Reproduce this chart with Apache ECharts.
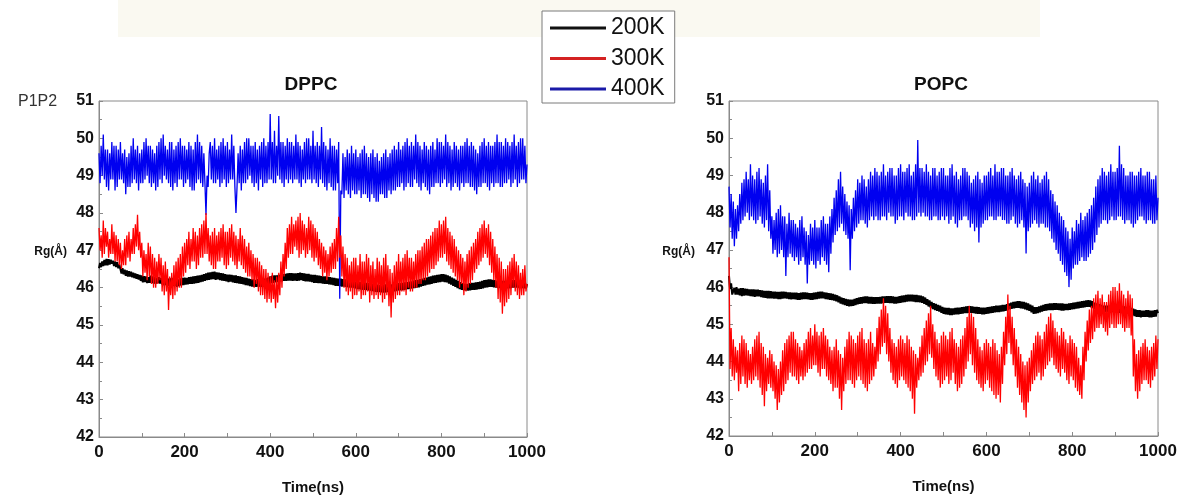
<!DOCTYPE html>
<html>
<head>
<meta charset="utf-8">
<title>P1P2 Rg</title>
<script src="https://cdn.jsdelivr.net/npm/echarts@6/dist/echarts.min.js"></script>
<style>
	html, body {margin: 0; padding: 0; background: #fff;}
	#main {width: 1184px; height: 497px;}
</style>
</head>
<body>
<div id="main"></div>
<script>
	// sampling step of the time series (ns)
	var timeStep = 2.5;
	var seriesNames = ['200K', '300K', '400K'];
	var xTicks = [0, 200, 400, 600, 800, 1000];
	var yTicks = [42, 43, 44, 45, 46, 47, 48, 49, 50, 51];

	// DPPC, Rg(Å) read every 2.5 ns, one row = 50 ns
	var dppc200 = [
		46.52,46.66,46.55,46.7,46.58,46.74,46.6,46.77,46.6,46.76,46.62,46.75,46.64,46.72,46.58,46.7,46.55,46.68,46.52,46.62,
		46.5,46.38,46.52,46.36,46.48,46.32,46.46,46.3,46.44,46.3,46.43,46.28,46.4,46.26,46.38,46.24,46.36,46.22,46.34,46.18,
		46.33,46.14,46.31,46.15,46.3,46.12,46.28,46.13,46.32,46.13,46.3,46.11,46.29,46.1,46.27,46.12,46.28,46.11,46.26,46.09,
		46.25,46.06,46.23,46.07,46.24,46.05,46.25,46.06,46.26,46.04,46.24,46.05,46.23,46.02,46.22,46.04,46.25,46.06,46.26,46.07,
		46.27,46.08,46.26,46.09,46.28,46.1,46.29,46.1,46.3,46.11,46.31,46.12,46.32,46.13,46.33,46.15,46.34,46.16,46.36,46.18,
		46.38,46.2,46.4,46.21,46.41,46.22,46.42,46.23,46.43,46.21,46.41,46.22,46.4,46.2,46.39,46.19,46.38,46.18,46.36,46.17,
		46.35,46.15,46.35,46.16,46.34,46.14,46.33,46.13,46.33,46.12,46.31,46.11,46.3,46.1,46.28,46.09,46.27,46.07,46.26,46.06,
		46.24,46.04,46.23,46.03,46.22,46.02,46.21,46.02,46.23,46.03,46.23,46.02,46.22,46.02,46.24,46.04,46.25,46.06,46.27,46.08,
		46.3,46.12,46.32,46.13,46.33,46.14,46.33,46.15,46.34,46.16,46.35,46.17,46.36,46.18,46.37,46.18,46.38,46.19,46.39,46.19,
		46.39,46.18,46.38,46.19,46.38,46.18,46.39,46.19,46.4,46.2,46.39,46.18,46.38,46.17,46.37,46.17,46.37,46.16,46.35,46.15,
		46.34,46.13,46.34,46.13,46.33,46.12,46.32,46.12,46.31,46.11,46.3,46.1,46.3,46.1,46.29,46.09,46.28,46.08,46.27,46.07,
		46.26,46.05,46.25,46.05,46.24,46.04,46.24,46.03,46.23,46.03,46.22,46.02,46.22,46.01,46.21,46.0,46.2,46.0,46.18,45.98,
		46.16,45.96,46.16,45.96,46.15,45.95,46.14,45.94,46.14,45.94,46.13,45.93,46.12,45.92,46.11,45.91,46.1,45.9,46.09,45.89,
		46.08,45.88,46.07,45.88,46.07,45.87,46.08,45.87,46.09,45.88,46.09,45.89,46.08,45.89,46.09,45.9,46.1,45.9,46.11,45.92,
		46.12,45.93,46.12,45.93,46.13,45.94,46.14,45.95,46.15,45.96,46.16,45.97,46.17,45.98,46.19,45.99,46.2,46.0,46.21,46.01,
		46.23,46.03,46.24,46.05,46.26,46.06,46.27,46.08,46.29,46.09,46.3,46.1,46.32,46.12,46.33,46.13,46.34,46.14,46.35,46.15,
		46.36,46.16,46.36,46.15,46.35,46.14,46.33,46.11,46.3,46.08,46.27,46.05,46.24,46.02,46.21,45.99,46.18,45.96,46.15,45.94,
		46.12,45.93,46.11,45.92,46.1,45.92,46.12,45.93,46.13,45.94,46.13,45.94,46.14,45.95,46.15,45.96,46.16,45.97,46.18,45.98,
		46.2,46.0,46.21,46.01,46.22,46.02,46.22,46.02,46.21,46.01,46.2,46.0,46.19,45.99,46.19,45.99,46.18,45.98,46.18,45.98,
		46.18,45.98,46.19,45.98,46.19,45.99,46.2,46.0,46.2,46.0,46.2,46.0,46.19,45.99,46.19,45.99,46.18,45.98,46.17,45.98,
		46.1
	];
	var dppc300 = [
		47.6,47.0,47.4,46.8,47.8,46.9,47.6,47.1,47.5,46.8,47.3,46.9,47.7,46.9,47.5,46.7,47.4,46.7,47.3,46.6,
		47.2,46.5,47.0,46.6,47.3,46.6,47.4,46.8,47.5,46.7,47.3,46.9,47.6,46.9,47.7,47.1,47.95,47.0,47.5,46.8,
		47.2,46.3,47.0,46.4,46.9,46.2,47.2,46.3,47.1,46.1,46.9,46.0,46.8,46.0,46.7,46.1,46.9,46.2,46.8,45.9,
		46.6,45.8,46.7,45.9,46.5,45.4,46.3,45.8,46.4,45.7,46.6,45.8,46.7,45.9,46.8,46.0,46.9,46.0,47.1,46.3,
		47.2,46.4,47.3,46.6,47.5,46.5,47.3,46.7,47.6,46.7,47.5,46.5,47.4,46.6,47.6,46.8,47.7,46.8,47.8,46.9,
		48.0,46.9,47.6,46.7,47.4,46.6,47.5,46.5,47.6,46.5,47.4,46.7,47.5,46.7,47.6,46.8,47.7,46.6,47.5,46.5,
		47.5,46.6,47.6,46.8,47.7,46.7,47.5,46.6,47.4,46.5,47.3,46.7,47.6,46.6,47.4,46.5,47.3,46.4,47.1,46.3,
		47.2,46.3,47.0,46.2,46.9,46.0,46.8,46.1,46.8,45.9,46.7,45.8,46.6,45.8,46.5,45.7,46.5,45.6,46.4,45.7,
		46.3,45.6,46.4,45.7,46.2,45.45,46.3,45.6,46.4,45.8,46.7,46.0,46.9,46.3,47.2,46.5,47.6,46.8,47.7,46.9,
		47.9,46.9,47.7,47.1,47.8,47.0,47.9,46.8,48.0,46.9,47.8,47.0,47.7,46.8,47.6,46.9,47.9,47.0,47.8,46.8,
		47.7,46.7,47.6,46.8,47.5,46.6,47.3,46.5,47.2,46.3,47.1,46.4,47.0,46.2,46.9,46.3,47.1,46.4,47.2,46.5,
		47.3,46.5,47.6,46.7,47.9,46.8,47.4,46.3,47.1,46.0,46.9,45.9,46.8,45.8,46.6,45.9,46.7,45.7,46.8,45.8,
		46.8,45.8,46.6,45.9,46.9,45.7,46.7,45.8,46.7,45.8,46.9,45.9,46.8,45.6,46.6,45.8,46.7,45.7,46.5,45.8,
		46.8,45.7,46.7,45.8,46.6,45.6,46.8,45.7,46.9,45.8,46.6,45.5,46.5,45.2,46.4,45.6,46.6,45.7,46.7,45.8,
		46.9,45.8,46.7,45.9,46.8,45.9,46.9,45.8,47.0,46.0,46.8,45.9,46.8,45.9,46.7,46.0,46.9,46.0,47.0,46.1,
		47.0,46.1,47.1,46.2,47.2,46.2,47.3,46.3,47.3,46.4,47.4,46.5,47.5,46.5,47.6,46.6,47.6,46.7,47.8,46.8,
		47.7,46.8,47.8,46.9,47.9,46.7,47.6,46.6,47.5,46.5,47.4,46.4,47.3,46.3,47.1,46.2,47.0,46.0,46.9,46.1,
		46.8,45.8,46.7,45.9,46.9,46.0,47.0,46.1,47.1,46.2,47.2,46.4,47.3,46.5,47.5,46.6,47.6,46.7,47.7,46.8,
		47.8,46.9,47.6,46.8,47.7,46.6,47.5,46.4,47.3,46.2,47.1,46.0,46.9,45.7,46.8,45.6,46.7,45.3,46.5,45.5,
		46.5,45.6,46.6,45.7,46.7,45.8,46.8,46.0,46.9,45.9,46.7,45.8,46.6,45.7,46.4,45.8,46.5,45.8,46.6,45.9,
		46.1
	];
	var dppc400 = [
		49.6,48.8,49.8,49.0,50.1,48.9,49.7,48.7,49.7,48.6,49.6,48.9,49.9,48.9,49.8,48.6,49.8,48.7,49.7,48.9,
		49.9,48.9,49.6,48.8,49.7,48.5,49.5,48.7,49.6,48.7,49.8,48.8,50.0,48.9,49.7,48.8,49.8,48.6,49.6,48.8,
		49.7,48.8,49.9,48.9,50.0,49.0,49.8,48.8,49.8,48.7,49.7,48.8,49.6,48.6,49.8,48.7,49.9,48.9,50.0,48.8,
		50.1,49.0,49.8,48.9,49.7,48.8,49.9,48.7,49.9,48.6,49.7,48.8,49.8,48.7,49.9,48.9,50.0,48.9,49.8,48.7,
		49.8,48.8,49.7,48.9,49.9,48.7,49.8,48.6,49.7,48.6,49.9,48.8,50.1,48.9,49.9,48.8,49.8,48.7,49.6,48.8,
		47.95,49.0,48.7,49.6,49.9,48.9,49.8,48.8,50.0,48.8,49.7,48.9,49.8,48.7,49.9,48.8,50.0,48.9,49.8,48.7,
		49.9,48.8,49.7,48.9,50.1,48.9,49.8,48.7,48.0,48.7,49.6,48.8,49.8,48.6,49.7,48.8,49.9,48.8,50.0,48.9,
		50.0,49.0,49.8,48.8,49.8,48.7,49.9,48.8,49.7,48.6,49.8,48.9,49.9,48.7,50.0,48.8,49.8,48.8,49.9,48.9,
		50.65,48.9,49.9,48.8,50.2,48.8,49.8,49.0,50.6,48.9,49.9,48.8,49.9,48.7,49.8,48.9,50.0,48.8,49.9,48.9,
		49.9,48.8,49.8,48.9,50.1,48.9,49.9,48.8,49.8,48.7,49.7,48.9,49.9,48.8,50.0,48.9,50.0,48.9,49.8,48.8,
		50.2,48.9,49.8,48.8,49.9,48.7,49.8,48.9,50.3,48.8,49.9,48.7,49.8,48.6,49.7,48.8,50.0,48.7,49.8,48.6,
		49.8,48.6,49.7,48.8,49.9,45.7,48.6,48.5,49.6,48.4,49.5,48.6,49.7,48.5,49.6,48.4,49.8,48.6,49.6,48.5,
		49.7,48.5,49.5,48.6,49.6,48.4,49.7,48.5,49.8,48.5,49.6,48.4,49.5,48.3,49.6,48.5,49.7,48.4,49.5,48.3,
		49.6,48.3,49.4,48.5,49.5,48.5,49.6,48.4,49.7,48.4,49.5,48.6,49.6,48.5,49.7,48.6,49.8,48.6,49.7,48.7,
		49.9,48.7,49.7,48.8,49.8,48.6,49.9,48.7,50.0,48.8,49.8,48.7,49.9,48.7,49.8,48.9,50.1,48.8,49.9,48.7,
		49.8,48.6,49.7,48.8,49.9,48.7,49.8,48.6,49.7,48.5,49.8,48.7,49.9,48.7,49.7,48.8,50.0,48.8,49.9,48.7,
		49.9,48.8,49.8,48.9,50.1,48.7,49.9,48.8,49.8,48.6,49.7,48.7,49.9,48.8,49.8,48.7,49.7,48.6,49.8,48.8,
		49.8,48.7,49.9,48.8,50.0,48.8,49.8,48.7,49.9,48.7,49.8,48.6,49.7,48.5,49.6,48.7,49.8,48.7,49.9,48.8,
		50.0,48.8,49.8,48.7,49.9,48.6,49.8,48.8,49.8,48.7,49.9,48.8,50.1,48.8,49.9,48.7,49.9,48.7,49.8,48.8,
		50.0,48.8,49.9,48.9,49.8,48.7,49.9,48.8,50.1,48.9,49.8,48.7,49.9,48.8,50.0,48.9,50.0,48.9,49.8,48.8,
		49.3
	];

	// POPC, Rg(Å) read every 2.5 ns, one row = 50 ns
	var popc200 = [
		46.3,45.95,46.1,45.8,45.78,45.98,45.8,46.0,45.8,45.96,45.78,45.97,45.76,45.97,45.77,45.96,45.78,45.95,45.77,45.94,
		45.76,45.94,45.75,45.94,45.74,45.93,45.75,45.93,45.75,45.92,45.73,45.91,45.72,45.9,45.71,45.9,45.7,45.9,45.7,45.89,
		45.7,45.88,45.69,45.88,45.69,45.87,45.68,45.87,45.68,45.88,45.69,45.88,45.7,45.87,45.69,45.86,45.68,45.86,45.67,45.85,
		45.68,45.85,45.67,45.85,45.66,45.84,45.66,45.85,45.67,45.86,45.68,45.86,45.68,45.85,45.67,45.84,45.66,45.84,45.66,45.85,
		45.67,45.86,45.68,45.87,45.69,45.88,45.7,45.88,45.7,45.86,45.68,45.85,45.67,45.84,45.66,45.83,45.65,45.82,45.64,45.8,
		45.62,45.78,45.59,45.75,45.56,45.72,45.54,45.7,45.52,45.68,45.5,45.67,45.48,45.66,45.49,45.66,45.5,45.68,45.52,45.7,
		45.54,45.72,45.55,45.73,45.56,45.74,45.57,45.75,45.57,45.75,45.56,45.74,45.56,45.74,45.55,45.73,45.55,45.73,45.56,45.73,
		45.56,45.74,45.56,45.75,45.57,45.75,45.58,45.76,45.58,45.76,45.57,45.76,45.57,45.75,45.56,45.74,45.56,45.74,45.57,45.76,
		45.58,45.77,45.59,45.78,45.6,45.79,45.61,45.8,45.62,45.8,45.62,45.8,45.61,45.79,45.6,45.79,45.6,45.78,45.59,45.77,
		45.58,45.75,45.55,45.72,45.52,45.68,45.48,45.64,45.45,45.6,45.41,45.57,45.38,45.55,45.36,45.52,45.34,45.5,45.31,45.47,
		45.28,45.45,45.27,45.44,45.26,45.44,45.25,45.43,45.25,45.43,45.26,45.44,45.27,45.45,45.27,45.45,45.28,45.46,45.29,45.47,
		45.3,45.48,45.3,45.49,45.31,45.49,45.31,45.48,45.3,45.47,45.29,45.47,45.28,45.46,45.28,45.45,45.27,45.45,45.27,45.45,
		45.28,45.46,45.29,45.47,45.3,45.48,45.31,45.49,45.32,45.5,45.33,45.5,45.33,45.51,45.34,45.52,45.35,45.52,45.36,45.54,
		45.38,45.56,45.4,45.58,45.42,45.6,45.43,45.61,45.44,45.62,45.44,45.62,45.43,45.61,45.42,45.6,45.4,45.58,45.38,45.56,
		45.36,45.53,45.32,45.5,45.28,45.46,45.29,45.46,45.3,45.48,45.32,45.5,45.34,45.52,45.36,45.54,45.37,45.55,45.38,45.56,
		45.38,45.56,45.38,45.57,45.39,45.57,45.39,45.56,45.38,45.56,45.37,45.56,45.37,45.55,45.38,45.55,45.38,45.56,45.39,45.57,
		45.4,45.58,45.41,45.59,45.42,45.6,45.43,45.61,45.44,45.62,45.45,45.63,45.46,45.64,45.47,45.65,45.47,45.64,45.45,45.62,
		45.42,45.58,45.39,45.56,45.36,45.54,45.34,45.52,45.33,45.5,45.32,45.5,45.32,45.5,45.33,45.5,45.33,45.51,45.33,45.51,
		45.32,45.5,45.32,45.5,45.31,45.49,45.3,45.48,45.3,45.48,45.29,45.47,45.28,45.46,45.26,45.44,45.25,45.42,45.22,45.4,
		45.2,45.38,45.2,45.38,45.19,45.37,45.2,45.37,45.2,45.38,45.2,45.38,45.19,45.37,45.19,45.37,45.2,45.38,45.21,45.39,
		45.3
	];
	var popc300 = [
		46.8,43.8,44.9,43.6,44.6,43.5,44.4,43.7,44.3,43.2,44.5,43.4,44.7,43.6,44.6,43.4,44.5,43.3,44.3,43.5,
		44.2,43.4,44.4,43.5,44.6,43.6,44.7,43.5,44.8,43.3,44.5,43.1,44.4,42.8,44.2,43.2,44.1,43.4,44.3,43.3,
		44.2,43.2,44.0,43.0,43.9,42.7,43.8,42.9,44.0,43.1,44.3,43.2,44.5,43.4,44.6,43.5,44.7,43.7,44.8,43.6,
		44.8,43.6,44.6,43.5,44.5,43.4,44.4,43.6,44.3,43.5,44.5,43.6,44.6,43.7,44.8,43.8,44.9,43.8,44.7,43.9,
		45.0,43.9,44.8,43.7,44.7,43.6,44.8,43.8,44.9,43.8,44.7,43.6,44.6,43.5,44.4,43.4,44.3,43.2,44.4,43.3,
		44.6,43.3,44.3,43.0,44.2,42.7,44.1,43.2,44.4,43.4,44.6,43.5,44.8,43.5,44.7,43.4,44.6,43.3,44.5,43.5,
		44.7,43.6,44.8,43.5,44.9,43.4,44.6,43.3,44.5,43.2,44.6,43.4,44.8,43.5,44.5,43.6,44.4,43.8,44.9,44.0,
		45.2,44.2,45.4,44.4,45.7,44.5,45.5,44.2,45.3,44.0,44.9,43.7,44.6,43.5,44.5,43.4,44.4,43.3,44.6,43.5,
		44.7,43.6,44.6,43.5,44.5,43.4,44.7,43.3,44.6,43.2,44.4,43.0,44.3,42.6,44.2,43.3,44.1,43.5,44.4,43.6,
		44.7,43.7,44.9,43.9,45.1,44.0,45.3,44.2,45.5,44.1,45.0,43.8,44.8,43.6,44.6,43.5,44.5,43.3,44.7,43.4,
		44.8,43.5,44.7,43.6,44.6,43.4,44.8,43.5,44.9,43.7,44.6,43.4,44.5,43.2,44.4,43.3,44.6,43.4,44.7,43.6,
		44.9,43.8,45.2,44.0,45.5,44.2,45.3,43.9,45.2,43.7,44.9,43.5,44.6,43.4,44.4,43.3,44.3,43.2,44.5,43.4,
		44.6,43.5,44.5,43.3,44.4,43.2,44.6,43.1,44.5,43.0,44.3,43.1,44.2,42.9,44.4,43.4,44.8,43.9,45.2,44.2,
		45.8,44.5,45.5,44.2,45.2,43.9,44.9,43.6,44.6,43.3,44.4,43.1,44.2,42.9,44.0,42.7,43.9,42.5,44.0,42.9,
		44.1,43.2,44.3,43.4,44.5,43.5,44.7,43.6,44.8,43.7,44.7,43.5,44.6,43.6,44.8,43.8,45.0,43.9,45.2,44.0,
		45.3,44.1,45.1,43.9,44.9,43.8,44.8,43.7,44.7,43.6,44.9,43.8,44.8,43.7,44.6,43.5,44.5,43.4,44.7,43.6,
		44.6,43.5,44.5,43.3,44.4,43.2,44.1,43.1,43.9,43.0,44.4,43.5,44.8,44.0,45.1,44.3,45.4,44.5,45.5,44.6,
		45.7,44.8,45.8,44.9,45.9,44.9,45.7,45.0,45.8,44.9,45.6,44.8,45.6,44.7,45.8,44.9,45.9,45.0,46.0,44.9,
		46.0,44.9,45.9,45.0,46.1,45.0,45.9,44.9,45.8,44.8,45.7,44.9,45.9,44.9,45.8,44.7,45.7,43.6,44.6,43.2,
		44.2,43.0,44.3,43.2,44.4,43.4,44.5,43.5,44.6,43.5,44.4,43.4,44.3,43.3,44.4,43.5,44.5,43.6,44.7,43.8,
		44.6
	];
	var popc400 = [
		48.7,47.6,48.5,47.3,48.3,47.1,48.1,47.3,48.2,47.5,48.5,47.7,48.8,47.8,48.9,47.9,49.1,48.0,48.9,47.8,
		49.3,47.9,49.0,47.8,48.9,47.7,49.1,47.8,49.2,47.9,48.9,47.7,48.8,47.6,49.0,47.8,49.3,47.5,48.6,47.3,
		47.9,46.9,47.8,47.0,48.0,46.8,48.1,46.9,48.2,47.0,47.9,46.8,47.9,46.3,47.7,46.8,48.0,46.9,47.8,46.8,
		47.8,46.7,47.7,46.8,47.6,46.6,47.8,46.7,47.9,46.8,47.6,46.6,47.5,46.1,47.4,46.6,47.7,46.7,47.6,46.6,
		47.8,46.5,47.6,46.7,47.6,46.6,47.8,46.8,47.9,46.7,47.7,46.6,47.7,46.4,47.9,46.9,48.1,47.2,48.4,47.4,
		48.6,47.5,48.9,47.6,49.1,47.7,48.7,47.5,48.5,47.4,48.3,47.3,48.2,46.45,48.1,47.3,48.4,47.5,48.6,47.6,
		48.9,47.7,48.8,47.8,49.0,47.8,48.9,47.7,48.7,47.6,48.9,47.8,49.1,47.9,49.0,47.8,49.2,47.9,49.1,47.8,
		49.0,47.8,49.1,47.9,49.3,47.9,49.0,47.8,49.1,48.0,49.2,47.9,49.2,47.9,49.0,47.7,49.0,47.8,49.2,47.9,
		49.3,47.9,49.1,47.8,49.1,48.0,49.2,47.9,49.3,47.9,49.0,47.8,49.1,47.8,49.3,47.9,49.95,48.0,49.2,47.9,
		49.2,48.0,49.1,47.9,49.3,47.9,49.1,47.8,49.0,47.8,49.2,47.9,49.2,47.9,49.0,47.8,49.1,47.8,49.2,47.9,
		49.2,47.8,49.0,47.9,49.0,47.7,49.2,47.8,49.3,47.9,49.0,47.7,49.1,47.6,48.9,47.8,49.0,47.8,49.2,47.9,
		49.2,47.9,49.1,47.8,49.0,47.6,48.8,47.7,48.9,47.5,49.0,47.6,49.1,47.2,48.9,47.6,48.8,47.7,49.0,47.8,
		49.0,47.8,49.1,47.9,49.2,47.9,49.0,47.8,49.3,47.8,49.1,47.9,49.1,47.9,49.2,47.8,49.2,47.8,49.0,47.7,
		49.0,47.7,49.1,47.8,49.2,47.9,49.0,47.7,48.9,47.6,49.0,47.7,49.1,47.8,48.9,47.6,48.8,46.9,48.7,47.5,
		48.8,47.6,49.0,47.7,49.1,47.8,48.9,47.7,49.0,47.6,48.8,47.7,48.9,47.7,49.0,47.6,49.1,47.6,48.9,47.5,
		48.6,47.3,48.5,47.2,48.3,47.0,48.2,46.9,48.0,46.7,47.9,46.6,47.8,46.4,47.6,46.3,47.5,46.0,47.3,46.2,
		47.6,46.5,47.5,46.6,47.8,46.6,47.7,46.7,48.0,46.8,47.8,46.7,47.9,46.7,48.0,46.8,48.1,46.9,48.2,47.0,
		48.4,47.2,48.7,47.4,48.9,47.6,49.0,47.7,49.2,47.8,49.1,47.8,49.0,47.7,49.1,47.8,49.3,47.9,49.1,47.8,
		49.1,47.8,49.2,47.9,49.8,47.9,49.3,47.8,49.2,47.7,49.0,47.8,49.0,47.8,49.1,47.7,49.1,47.6,49.0,47.7,
		49.0,47.8,49.1,47.9,49.2,47.9,49.0,47.8,49.0,47.7,49.1,47.8,49.1,47.8,48.9,47.7,48.9,47.7,49.0,47.8,
		48.4
	];

	var lineColors = ['#000000', '#ff0000', '#0000f0'];
	var lineWidths = [2, 1.3, 1.3];
	var legendColors = ['#111111', '#d42222', '#1a1aa8'];
	var numFont = "'Liberation Sans', Arial, sans-serif";

	function pairs(values) {
		return values.map(function(v, i) { return [i * timeStep, v]; });
	}

	function makeX(idx) {
		return {
			type: 'value', gridIndex: idx, min: xTicks[0], max: xTicks[xTicks.length - 1], interval: 200,
			name: 'Time(ns)', nameLocation: 'middle', nameGap: 43,
			nameTextStyle: {fontFamily: numFont, fontWeight: 'bold', fontSize: 15, color: '#111'},
			axisLine: {lineStyle: {color: '#8a8a8a', width: 1}},
			axisTick: {inside: true, length: 4, lineStyle: {color: '#8a8a8a'}},
			minorTick: {show: true, splitNumber: 2, length: 4, lineStyle: {color: '#8a8a8a'}},
			axisLabel: {fontFamily: numFont, fontWeight: 'bold', fontSize: 17, color: '#111', margin: 7,
				formatter: function(v) { return String(v); }},
			splitLine: {show: false}
		};
	}
	function makeY(idx) {
		return {
			type: 'value', gridIndex: idx, min: yTicks[0], max: yTicks[yTicks.length - 1], interval: 1,
			axisLine: {show: true, lineStyle: {color: '#8a8a8a', width: 1}},
			axisTick: {show: true, inside: true, length: 4, lineStyle: {color: '#8a8a8a'}},
			minorTick: {show: true, splitNumber: 2, length: 3, lineStyle: {color: '#8a8a8a'}},
			axisLabel: {fontFamily: numFont, fontWeight: 'bold', fontSize: 16, color: '#111', margin: 5},
			splitLine: {show: false}
		};
	}
	function makeLine(name, values, idx, k, z) {
		return {
			name: name, type: 'line', xAxisIndex: idx, yAxisIndex: idx,
			data: pairs(values), showSymbol: false, symbol: 'none', z: z,
			lineStyle: {width: lineWidths[k], color: lineColors[k]},
			itemStyle: {color: lineColors[k]}
		};
	}

	var myChart = echarts.init(document.getElementById('main'), null, {renderer: 'canvas'});
	var option = {
		animation: false,
		backgroundColor: '#ffffff',
		grid: [
			{left: 99, top: 101, width: 428, height: 336, show: true, borderColor: '#8a8a8a', borderWidth: 1, outerBoundsMode: 'none', containLabel: false},
			{left: 729, top: 101, width: 429, height: 335, show: true, borderColor: '#8a8a8a', borderWidth: 1, outerBoundsMode: 'none', containLabel: false}
		],
		xAxis: [makeX(0), makeX(1)],
		yAxis: [makeY(0), makeY(1)],
		legend: {
			orient: 'vertical', left: 542, top: 11,
			padding: [5, 10, 2, 8], itemGap: 6.5,
			borderColor: '#7a7a7a', borderWidth: 1, backgroundColor: '#fff',
			itemWidth: 56, itemHeight: 3, icon: 'rect',
			textStyle: {fontFamily: "'Liberation Sans', Arial, sans-serif", fontSize: 23, lineHeight: 24, color: '#111'},
			data: seriesNames.map(function(n, i) { return {name: n, itemStyle: {color: legendColors[i]}}; })
		},
		graphic: [
			// faint watermark band at the top
			{type: 'rect', z: -10, shape: {x: 118, y: 0, width: 922, height: 37}, style: {fill: '#faf9f1'}},
			{type: 'text', left: 18, top: 94, style: {text: 'P1P2', font: '16px ' + numFont, fill: '#333'}},
			{type: 'text', x: 311, y: 85, style: {text: 'DPPC', font: 'bold 19px ' + numFont, fill: '#111', align: 'center', verticalAlign: 'middle'}},
			{type: 'text', x: 941, y: 85, style: {text: 'POPC', font: 'bold 19px ' + numFont, fill: '#111', align: 'center', verticalAlign: 'middle'}},
			{type: 'text', x: 67, y: 252, style: {text: 'Rg(Å)', font: 'bold 12px ' + numFont, fill: '#111', align: 'right', verticalAlign: 'middle'}},
			{type: 'text', x: 695, y: 252, style: {text: 'Rg(Å)', font: 'bold 12px ' + numFont, fill: '#111', align: 'right', verticalAlign: 'middle'}}
		],
		series: [
			makeLine('200K', dppc200, 0, 0, 2),
			makeLine('400K', dppc400, 0, 2, 3),
			makeLine('300K', dppc300, 0, 1, 4),
			makeLine('200K', popc200, 1, 0, 2),
			makeLine('400K', popc400, 1, 2, 3),
			makeLine('300K', popc300, 1, 1, 4)
		]
	};
	myChart.setOption(option);
</script>
</body>
</html>
